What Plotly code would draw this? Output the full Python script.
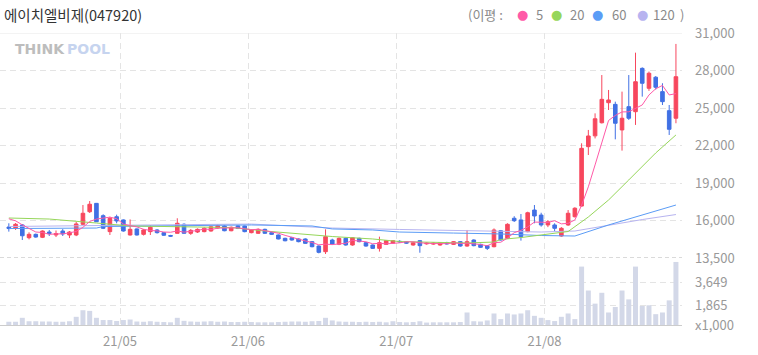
import pandas as pd
import plotly.graph_objects as go

# ---------------- data ----------------
stock_title = "에이치엘비제(047920)"
holidays = ["2021-05-05", "2021-05-19", "2021-08-16"]
dates = pd.bdate_range("2021-04-08", "2021-08-30", freq="C", holidays=holidays)

opens = [15910, 15810, 16070, 15080, 15340, 15110, 15520, 15290, 15600, 15290,
         15290, 16120, 17100, 17750, 16790, 15550, 16710, 16460, 15290, 15760,
         15340, 15550, 15680, 15470, 15250, 15420, 16120, 15420, 15520, 15550,
         15600, 15830, 15990, 15620, 16000, 15990, 15470, 15420, 15730, 15470,
         15290, 15030, 15080, 14980, 14980, 14770, 14430, 13990, 14900, 14570,
         15030, 14510, 15030, 14690, 14510, 14250, 14560, 14650, 14800, 14770,
         14510, 14850, 14600, 14580, 14510, 14690, 14560, 14770, 14430, 14900,
         14560, 14460, 14380, 15620, 15030, 16590, 16460, 15550, 17230, 16840,
         16070, 16070, 15210, 16070, 16710, 17540, 22160, 23000, 24020, 25580,
         25450, 23460, 25270, 24880, 28250, 26700, 27560, 26440, 24960, 24370]
highs = [16200, 16220, 16140, 15500, 15400, 15650, 15680, 15640, 15750, 15600,
         16300, 17620, 17930, 17780, 16900, 16710, 16870, 16500, 16500, 15800,
         15750, 16030, 15750, 15500, 15300, 16590, 16200, 15750, 15800, 15880,
         16000, 16100, 16050, 15950, 16050, 16020, 15750, 15800, 15780, 15520,
         15330, 15080, 15150, 15030, 15030, 14820, 14480, 15730, 15000, 15100,
         15080, 15130, 15080, 14740, 14560, 15160, 14900, 14900, 14880, 14820,
         14740, 14900, 14720, 14720, 14740, 14760, 14820, 14820, 15680, 14950,
         14610, 14510, 15800, 15680, 16200, 16750, 16920, 17100, 17620, 17020,
         16450, 16200, 15900, 17230, 17450, 22420, 23460, 24750, 27730, 26570,
         25660, 26440, 27730, 29470, 28330, 28000, 27650, 27090, 25400, 30150]
lows = [15550, 15680, 14900, 14950, 15080, 15050, 15210, 15130, 15210, 15050,
        15200, 16050, 17000, 16300, 15750, 15290, 16200, 15550, 15250, 15250,
        15250, 15290, 15400, 15220, 15150, 15400, 15400, 15300, 15450, 15500,
        15550, 15780, 15580, 15580, 15750, 15500, 15420, 15380, 15380, 15300,
        14950, 14800, 14850, 14720, 14600, 14330, 13860, 13810, 14540, 14500,
        14460, 14460, 14720, 14380, 14200, 14000, 14510, 14600, 14700, 14600,
        14460, 13910, 14540, 14530, 14460, 14550, 14510, 14380, 14380, 14410,
        14280, 14120, 14330, 14850, 14980, 16300, 14850, 15500, 16200, 15940,
        15900, 15600, 15160, 16000, 16650, 17500, 21510, 22800, 23960, 25010,
        22730, 21850, 24240, 23850, 26050, 26500, 26600, 25400, 23070, 23980]
closes = [15790, 16120, 15230, 15340, 15130, 15600, 15400, 15400, 15370, 15520,
          16150, 16980, 17680, 16320, 15810, 16590, 16380, 15600, 15730, 15290,
          15680, 15890, 15470, 15270, 15200, 16200, 15420, 15650, 15730, 15810,
          15930, 16000, 15620, 15890, 15800, 15550, 15680, 15730, 15420, 15340,
          14980, 14840, 14900, 14770, 14640, 14380, 13940, 15160, 14590, 15030,
          14510, 15080, 14770, 14430, 14250, 14690, 14850, 14850, 14760, 14650,
          14690, 14460, 14650, 14650, 14690, 14600, 14770, 14430, 14770, 14460,
          14330, 14250, 15680, 14900, 16120, 16400, 15160, 17020, 16770, 16070,
          16320, 15810, 15810, 16980, 17370, 22030, 22990, 24330, 25840, 25790,
          23980, 24370, 24370, 27210, 27090, 27870, 26780, 25660, 23510, 27600]
volumes = [661, 661, 958, 700, 700, 680, 680, 660, 660, 700,
           1033, 1530, 1480, 958, 790, 790, 720, 790, 830, 680,
           660, 700, 660, 640, 620, 958, 730, 680, 660, 680,
           700, 660, 680, 640, 640, 660, 640, 620, 620, 620,
           640, 660, 680, 680, 660, 700, 720, 958, 760, 680,
           660, 660, 640, 660, 640, 660, 620, 700, 640, 620,
           640, 700, 600, 620, 620, 620, 620, 640, 1360, 700,
           680, 760, 1285, 862, 1285, 1211, 1285, 1530, 1107, 958,
           788, 713, 1033, 1285, 862, 4822, 3017, 2028, 2846, 1360,
           1776, 3017, 2348, 4822, 1850, 1902, 1233, 1360, 2274, 5171]
prior_closes = [16900, 16800, 16700, 16550]   # closes before the window (for MA5)

ma20_idx = [0, 6, 13, 18, 28, 33, 38, 43, 48, 54, 58, 64, 68, 72, 73, 76, 79, 82, 83, 86, 89, 92, 94, 96, 99]
ma20_val = [16610, 16530, 16220, 15990, 15910, 15870, 15600, 15370, 15170, 14980, 14780, 14710, 14670,
            14740, 14940, 15090, 15290, 15440, 15560, 16690, 18010, 19570, 20580, 21670, 23070]
ma60_idx = [0, 13, 14, 36, 45, 48, 54, 58, 66, 73, 79, 84, 89, 94, 99]
ma60_val = [15790, 15830, 15950, 16070, 15990, 15760, 15680, 15520, 15440, 15370, 15250, 15210, 16070, 16840, 17620]
ma120_idx = [0, 13, 21, 36, 48, 58, 68, 79, 84, 89, 94, 99]
ma120_val = [15950, 15990, 16070, 16140, 15830, 15720, 15640, 15520, 15600, 16070, 16490, 16880]

price_range = [13500, 31000]
price_tick_labels = ["13,500", "16,000", "19,000", "22,000", "25,000", "28,000", "31,000"]
vol_range = [416, 5470]
vol_tick_vals = [416, 1865, 3649]
vol_tick_labels = ["x1,000", "1,865", "3,649"]
legend_labels = ["5", "20", "60", "120"]

# ---------------- style ----------------
RED = "#f7475d"
BLUE = "#4070e4"
C_MA5 = "#ff5aa8"
C_MA20 = "#96d65a"
C_MA60 = "#5b9cf6"
C_MA120 = "#b7b4f0"
VOLC = "#d3d8e8"
GRID = "#e4e4e4"
TXT = "#999999"
FONT = "Noto Sans CJK KR"

W, H = 758, 355
ML, MR, MT, MB = 0, 76, 33, 30
PW, PH = W - ML - MR, H - MT - MB
VOL_H = 67
split = VOL_H / PH

n = len(closes)
xs = list(range(n))
allc = prior_closes + closes
ma5 = [sum(allc[i:i + 5]) / 5 for i in range(n)]

# month boundaries for ticks
months = [d.strftime("%y/%m") for d in dates]
tick_x, tick_t = [], []
for i in range(1, n):
    if months[i] != months[i - 1]:
        tick_x.append(i - 0.5)
        tick_t.append(months[i])

fig = go.Figure()
fig.add_trace(go.Bar(x=xs, y=volumes, marker=dict(color=VOLC, line=dict(width=0)),
                     width=0.74, yaxis="y2", hoverinfo="skip", showlegend=False))
fig.add_trace(go.Candlestick(
    x=xs, open=opens, high=highs, low=lows, close=closes,
    increasing=dict(line=dict(color=RED, width=1), fillcolor=RED),
    decreasing=dict(line=dict(color=BLUE, width=1), fillcolor=BLUE),
    whiskerwidth=0, yaxis="y", hoverinfo="skip", showlegend=False))
for ix, vals, col in [(ma120_idx, ma120_val, C_MA120), (ma60_idx, ma60_val, C_MA60),
                      (ma20_idx, ma20_val, C_MA20)]:
    fig.add_trace(go.Scatter(x=ix, y=vals, mode="lines", line=dict(color=col, width=1),
                             yaxis="y", hoverinfo="skip", showlegend=False))
fig.add_trace(go.Scatter(x=xs, y=ma5, mode="lines", line=dict(color=C_MA5, width=1),
                         yaxis="y", hoverinfo="skip", showlegend=False))

step = (price_range[1] - price_range[0]) / (len(price_tick_labels) - 1)
price_tick_vals = [price_range[0] + k * step for k in range(len(price_tick_labels))]

fig.update_layout(
    width=W, height=H, margin=dict(l=ML, r=MR, t=MT, b=MB),
    paper_bgcolor="white", plot_bgcolor="white", showlegend=False,
    boxgap=0.24, bargap=0.2,
    font=dict(family=FONT, size=13, color=TXT),
    xaxis=dict(domain=[0, 1], range=[-1.31, 99.9], anchor="y2",
               tickmode="array", tickvals=tick_x, ticktext=tick_t, ticks="",
               showgrid=True, gridcolor=GRID, griddash="6px,4px", gridwidth=1,
               zeroline=False, showline=True, linecolor="#cccccc", linewidth=1,
               tickfont=dict(family=FONT, size=13, color=TXT), ticklabelstandoff=4,
               rangeslider=dict(visible=False)),
    yaxis=dict(domain=[split, 1], range=price_range, side="right", anchor="x",
               tickmode="array", tickvals=price_tick_vals, ticktext=price_tick_labels, ticks="",
               showgrid=True, gridcolor=GRID, griddash="6px,4px", zeroline=False,
               tickfont=dict(family=FONT, size=13, color=TXT), ticklabelstandoff=12),
    yaxis2=dict(domain=[0, split], range=vol_range, side="right", anchor="x",
                tickmode="array", tickvals=vol_tick_vals, ticktext=vol_tick_labels, ticks="",
                showgrid=True, gridcolor=GRID, griddash="6px,4px", zeroline=False,
                tickfont=dict(family=FONT, size=13, color=TXT), ticklabelstandoff=12),
)

# separator and top border
fig.add_shape(type="line", xref="paper", yref="y", x0=0, x1=1, y0=price_range[0], y1=price_range[0],
              line=dict(color="#b4b4b4", width=1, dash="4px,3px"))
fig.add_shape(type="line", xref="paper", yref="y", x0=0, x1=1, y0=price_range[1], y1=price_range[1],
              line=dict(color="#e8e8e8", width=1))


def px_x(p):
    return (p - ML) / PW


def px_y(p):
    return (H - MB - p) / PH


anns = [
    dict(x=px_x(2), y=px_y(15), text=stock_title, xanchor="left",
         font=dict(family=FONT, size=14.5, color="#333333")),
    dict(x=px_x(466), y=px_y(14), text="(이평 :", xanchor="left",
         font=dict(family=FONT, size=13, color="#8a8a8a")),
    dict(x=px_x(678), y=px_y(14), text=")", xanchor="left",
         font=dict(family=FONT, size=13, color="#8a8a8a")),
    dict(x=px_x(13), y=px_y(49), text="<b>THINK</b>", xanchor="left",
         font=dict(family="DejaVu Sans", size=14, color="#bdbdbd")),
    dict(x=px_x(65), y=px_y(49), text="<b>POOL</b>", xanchor="left",
         font=dict(family="DejaVu Sans", size=14, color="#c6d4ef")),
]
dot_x = [522, 556, 597, 642]
lab_x = [534, 568, 610, 651]
for dx, lx, lab, col in zip(dot_x, lab_x, legend_labels, [C_MA5, C_MA20, C_MA60, C_MA120]):
    anns.append(dict(x=px_x(dx), y=px_y(14), text="●", xanchor="center",
                     font=dict(family="DejaVu Sans", size=13, color=col)))
    anns.append(dict(x=px_x(lx), y=px_y(14), text=lab, xanchor="left",
                     font=dict(family=FONT, size=13, color="#8a8a8a")))
for a in anns:
    a.update(xref="paper", yref="paper", yanchor="middle", showarrow=False)
fig.update_layout(annotations=anns)

fig.write_html("out.html")
